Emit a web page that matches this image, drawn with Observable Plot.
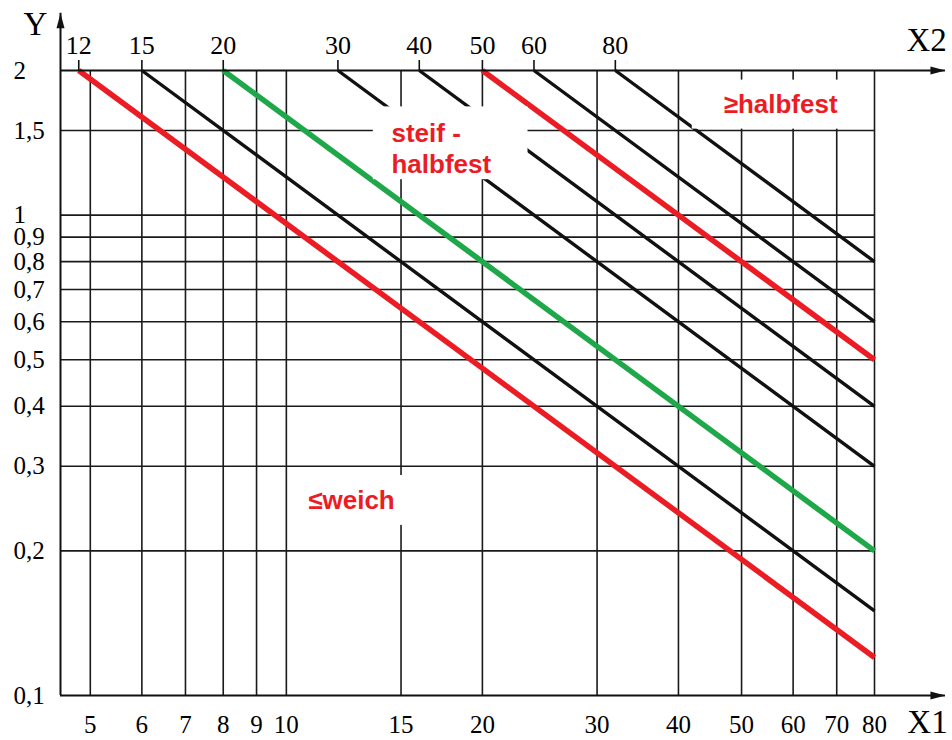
<!DOCTYPE html>
<html><head><meta charset="utf-8">
<script src="https://cdn.jsdelivr.net/npm/d3@7"></script>
<script src="https://cdn.jsdelivr.net/npm/@observablehq/plot@0.6"></script>
<style>body{margin:0;background:#fff;} #chart{width:952px;height:740px;}</style>
</head><body><div id="chart"></div>
<script>
// Bottom axis X1 ticks / grid
const x1Ticks = [5, 6, 7, 8, 9, 10, 15, 20, 30, 40, 50, 60, 70, 80];
// Left axis Y ticks / grid
const yTicks = [0.1, 0.2, 0.3, 0.4, 0.5, 0.6, 0.7, 0.8, 0.9, 1, 1.5, 2];
const yTickLabels = ["0,1", "0,2", "0,3", "0,4", "0,5", "0,6", "0,7", "0,8", "0,9", "1", "1,5", "2"];
// Top axis X2 labels and the diagonal lines they name
const x2Labels = [12, 15, 20, 30, 40, 50, 60, 80];
const lineStartX1 = [4.8, 6, 8, 12, 16, 20, 24, 32];      // X1 where each line meets Y = 2
const lineEndY = [0.12, 0.15, 0.2, 0.3, 0.4, 0.5, 0.6, 0.8]; // Y where each line meets X1 = 80
const lineKinds = ["red", "black", "green", "black", "black", "red", "black", "black"];
// Domains and axis arrow ends
const xDomain = [4.5, 80];
const yDomain = [0.1, 2];
const axisEndX = 102.8;
const axisEndY = 2.63;
// Zone annotations
const zoneTexts = ["steif -", "halbfest", "≥halbfest", "≤weich"];
const zoneX = [14.5, 14.5, 57.4, 12.59];
const zoneY = [1.474, 1.276, 1.694, 0.255];
const zoneAnchor = ["start", "start", "middle", "middle"];
// White label boxes
const boxX1 = [13.6, 42.0, 10.1];
const boxX2 = [23.5, 78.6, 15.1];
const boxY1 = [1.185, 1.51, 0.226];
const boxY2 = [1.68, 1.91, 0.287];
// Axis titles
const titleTexts = ["Y", "X2", "X1"];
const titleX = [4.12, 96.2, 96.5];
const titleY = [2.49, 2.31, 0.0878];

const RED = "#ec1c24", GREEN = "#1fa84a", BLACK = "#111";
const colorOf = {red: RED, green: GREEN, black: BLACK};
const GRID = "#1a1a1a";
const SERIF = "Liberation Serif";
const SANS = "Liberation Sans";

const lines = x2Labels.map((v, i) => [
  {x: lineStartX1[i], y: yDomain[1]},
  {x: xDomain[1], y: lineEndY[i]}
]);
const boxes = boxX1.map((v, i) => ({x1: boxX1[i], x2: boxX2[i], y1: boxY1[i], y2: boxY2[i]}));
const zones = zoneTexts.map((t, i) => ({t, x: zoneX[i], y: zoneY[i], a: zoneAnchor[i]}));
const yLab = yTicks.map((v, i) => ({y: v, t: yTickLabels[i]}));
const topLab = x2Labels.map((v, i) => ({x: lineStartX1[i], t: String(v)}));
const titles = titleTexts.map((t, i) => ({t, x: titleX[i], y: titleY[i]}));
const arrows = [
  {x: axisEndX, y: yDomain[0], r: 90},
  {x: axisEndX, y: yDomain[1], r: 90},
  {x: xDomain[0], y: axisEndY, r: 0}
];

const chart = Plot.plot({
  width: 952,
  height: 740,
  marginLeft: 60,
  marginRight: 78,
  marginTop: 70,
  marginBottom: 45,
  style: {background: "white", fontFamily: SERIF, overflow: "visible", color: "black"},
  x: {type: "log", domain: xDomain, axis: null},
  y: {type: "log", domain: yDomain, axis: null},
  marks: [
    Plot.ruleX(x1Ticks, {y1: yDomain[0], y2: yDomain[1], stroke: GRID, strokeWidth: 1.6}),
    Plot.ruleY(yTicks.filter(v => v !== yDomain[0] && v !== yDomain[1]), {x1: xDomain[0], x2: xDomain[1], stroke: GRID, strokeWidth: 1.6}),
    ...lines.map((pts, i) => Plot.line(pts, {
      x: "x", y: "y",
      stroke: colorOf[lineKinds[i]],
      strokeWidth: lineKinds[i] === "black" ? 3.4 : 5.5,
      strokeLinecap: "butt"
    })),
    Plot.rect(boxes, {x1: "x1", x2: "x2", y1: "y1", y2: "y2", fill: "white"}),
    ...zones.map(z => Plot.text([z], {
      x: "x", y: "y", text: "t", textAnchor: z.a,
      fill: RED, fontFamily: SANS, fontWeight: "bold", fontSize: 26
    })),
    Plot.ruleY([yDomain[0], yDomain[1]], {x1: xDomain[0], x2: axisEndX, stroke: BLACK, strokeWidth: 2}),
    Plot.ruleX([xDomain[0]], {y1: yDomain[0], y2: axisEndY, stroke: BLACK, strokeWidth: 2}),
    Plot.vector(arrows, {
      x: "x", y: "y", rotate: "r", length: 15, r: 4,
      shape: "spike", anchor: "end", fill: BLACK, stroke: "none"
    }),
    // top X2 tick marks
    Plot.ruleX(lineStartX1, {y1: yDomain[1], y2: yDomain[1], insetTop: -10, stroke: BLACK, strokeWidth: 1.6}),
    // top X2 labels
    Plot.text(topLab, {
      x: "x", y: () => yDomain[1], text: "t", lineAnchor: "bottom", dy: -17,
      fontSize: 26, fontFamily: SERIF, fill: "black"
    }),
    // bottom X1 labels
    Plot.text(x1Ticks, {
      x: d => d, y: () => yDomain[0], text: d => String(d), lineAnchor: "top", dy: 20,
      fontSize: 25, fontFamily: SERIF, fill: "black"
    }),
    // left Y labels
    Plot.text(yLab, {
      y: "y", text: "t", frameAnchor: "left", dx: -47, textAnchor: "start",
      fontSize: 25, fontFamily: SERIF, fill: "black"
    }),
    Plot.text(titles, {
      x: "x", y: "y", text: "t", fontSize: 33, fontFamily: SERIF, fill: "black"
    })
  ]
});
document.getElementById("chart").appendChild(chart);
</script>
</body></html>
